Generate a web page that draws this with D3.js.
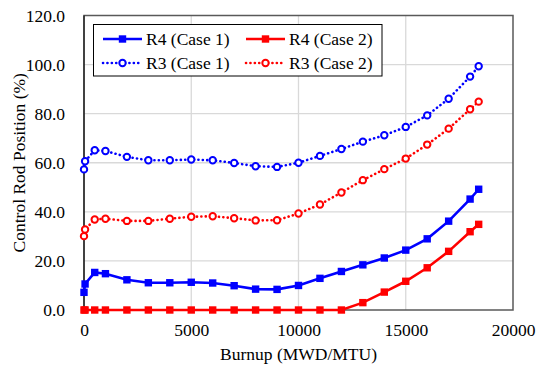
<!DOCTYPE html>
<html><head><meta charset="utf-8">
<script src="https://cdn.jsdelivr.net/npm/d3@7"></script>
<style>body{margin:0;background:#fff}svg{display:block}</style>
</head><body><svg id="c" width="545" height="367"></svg>
<script>
const burnup = [0,50,500,1000,2000,3000,4000,5000,6000,7000,8000,9000,10000,11000,12000,13000,14000,15000,16000,17000,18000,18400];
const r4Case1 = [7.2,10.6,15.3,14.8,12.3,11.1,11.1,11.3,11.0,9.9,8.5,8.4,10.0,12.9,15.7,18.4,21.2,24.4,29.0,36.2,45.2,49.2];
const r4Case2 = [0,0,0,0,0,0,0,0,0,0,0,0,0,0,0,3.0,7.3,11.7,17.2,23.9,31.9,34.9];
const r3Case1 = [57.3,60.6,65.1,64.8,62.4,61.0,61.0,61.3,61.0,59.9,58.6,58.3,60.0,62.8,65.6,68.6,71.2,74.6,79.3,86.1,95.1,99.3];
const r3Case2 = [30.1,32.8,36.9,37.2,36.3,36.3,37.2,38.0,38.2,37.4,36.5,36.6,39.3,43.0,47.9,52.9,57.4,61.7,67.4,73.9,81.8,84.9];
const xTicks = [0,5000,10000,15000,20000];
const yTicks = [0,20,40,60,80,100,120];
const seriesNames = ["R4 (Case 1)","R4 (Case 2)","R3 (Case 1)","R3 (Case 2)"];

const FONT = "'Liberation Serif'";
const FS = "17.5px";
const svg = d3.select("#c");
const L=84,R=513,T=15.5,B=310;
const x = d3.scaleLinear().domain([0,20000]).range([L,R]);
const y = d3.scaleLinear().domain([0,120]).range([B,T]);

// grid
svg.append("g").selectAll("line").data(yTicks.slice(1,-1)).join("line")
  .attr("x1",L).attr("x2",R).attr("y1",d=>y(d)).attr("y2",d=>y(d))
  .attr("stroke","#d9d9d9").attr("stroke-width",1.3);
svg.append("g").selectAll("line").data(xTicks.slice(1,-1)).join("line")
  .attr("y1",T).attr("y2",B).attr("x1",d=>x(d)).attr("x2",d=>x(d))
  .attr("stroke","#d9d9d9").attr("stroke-width",1.3);

// frame
svg.append("rect").attr("x",L).attr("y",T).attr("width",R-L).attr("height",B-T)
  .attr("fill","none").attr("stroke","#595959").attr("stroke-width",1.5);
svg.append("line").attr("x1",L).attr("x2",L).attr("y1",T).attr("y2",B).attr("stroke","#000").attr("stroke-width",1);

// axes
const xAxis = svg.append("g").attr("transform",`translate(0,${B})`)
  .call(d3.axisBottom(x).tickValues(xTicks).tickSize(0).tickPadding(14).tickFormat(d3.format("d")));
xAxis.select(".domain").remove();
xAxis.selectAll("text").style("font-family",FONT).style("font-size",FS).attr("fill","#000");
const yAxis = svg.append("g").attr("transform",`translate(${L},0)`)
  .call(d3.axisLeft(y).tickValues(yTicks).tickSize(0).tickPadding(19).tickFormat(d3.format(".1f")));
yAxis.select(".domain").remove();
yAxis.selectAll("text").style("font-family",FONT).style("font-size",FS).attr("fill","#000");

svg.append("text").attr("x",(L+R)/2).attr("y",360).attr("text-anchor","middle")
  .style("font-family",FONT).style("font-size",FS).text("Burnup (MWD/MTU)");
svg.append("text").attr("transform",`translate(25,${(T+B)/2}) rotate(-90)`).attr("text-anchor","middle")
  .style("font-family",FONT).style("font-size",FS).text("Control Rod Position (%)");

const series = [
  {name:seriesNames[0],vals:r4Case1,color:"#0000ff",dotted:false},
  {name:seriesNames[1],vals:r4Case2,color:"#ff0000",dotted:false},
  {name:seriesNames[2],vals:r3Case1,color:"#0000ff",dotted:true},
  {name:seriesNames[3],vals:r3Case2,color:"#ff0000",dotted:true}
];
const line = d3.line().x(d=>x(d[0])).y(d=>y(d[1]));
const plot = svg.append("g");
function drawMarker(g,s,cx,cy){
  if(s.dotted){
    g.append("circle").attr("cx",cx).attr("cy",cy).attr("r",3.2)
      .attr("fill","#fff").attr("stroke",s.color).attr("stroke-width",2);
  } else {
    g.append("rect").attr("x",cx-3.7).attr("y",cy-3.7).attr("width",7.4).attr("height",7.4).attr("fill",s.color);
  }
}
series.forEach(s=>{
  const pts = burnup.map((b,i)=>[b,s.vals[i]]);
  const p = plot.append("path").attr("d",line(pts)).attr("fill","none").attr("stroke",s.color);
  if(s.dotted) p.attr("stroke-width",2.6).attr("stroke-dasharray","0.1,4.3").attr("stroke-linecap","round");
  else p.attr("stroke-width",2.6);
  pts.forEach(d=>drawMarker(plot,s,x(d[0]),y(d[1])));
});

// legend
const lg = svg.append("g");
lg.append("rect").attr("x",93.5).attr("y",24.5).attr("width",288.5).attr("height",51.5)
  .attr("fill","#fff").attr("stroke","#000").attr("stroke-width",1);
const pos = [[103,39],[246,39],[103,63],[246,63]];
series.forEach((s,i)=>{
  const [lx,ly] = pos[i];
  const ln = lg.append("line").attr("x1",lx).attr("x2",lx+39).attr("y1",ly).attr("y2",ly).attr("stroke",s.color).attr("stroke-width",2.6);
  if(s.dotted) ln.attr("stroke-dasharray","0.1,4.3").attr("stroke-linecap","round");
  drawMarker(lg,s,lx+19.5,ly);
  lg.append("text").attr("x",lx+43).attr("y",ly+6).style("font-family",FONT).style("font-size",FS).attr("fill","#000").text(s.name);
});
</script></body></html>
